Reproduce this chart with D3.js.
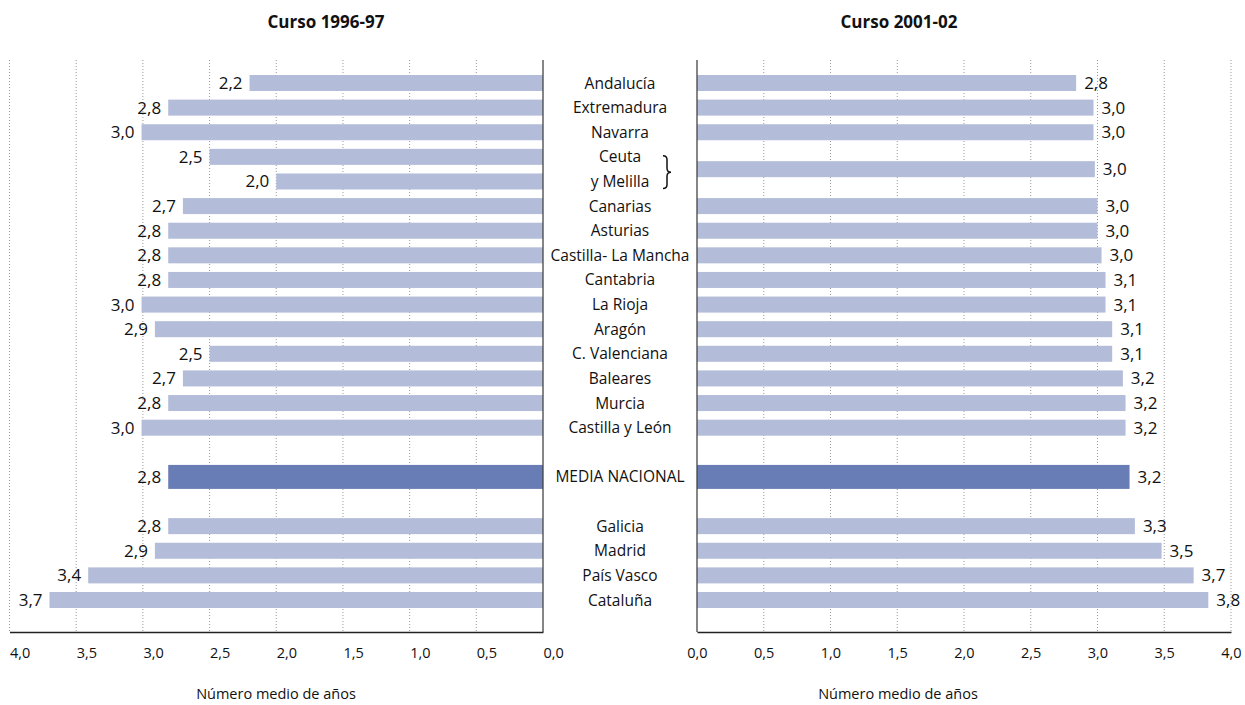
<!DOCTYPE html>
<html>
<head>
<meta charset="utf-8">
<script src="https://cdn.jsdelivr.net/npm/d3@7"></script>
<style>
  body { margin: 0; background: #fff; }
  text { font-family: "Open Sans", "Noto Sans", sans-serif; fill: #111; }
</style>
</head>
<body>
<svg id="chart" width="1245" height="705"></svg>
<script>
// Regions, in the order they are listed in the middle column
var regions = ['Andalucía', 'Extremadura', 'Navarra', 'Ceuta', 'y Melilla', 'Canarias', 'Asturias',
  'Castilla- La Mancha', 'Cantabria', 'La Rioja', 'Aragón', 'C. Valenciana', 'Baleares', 'Murcia',
  'Castilla y León', 'MEDIA NACIONAL', 'Galicia', 'Madrid', 'País Vasco', 'Cataluña'];

// Curso 1996-97 (one value per region above)
var curso1996 = [2.2, 2.81, 3.01, 2.5, 2.0, 2.7, 2.81, 2.81, 2.81, 3.01, 2.91, 2.5, 2.7, 2.81,
  3.01, 2.81, 2.81, 2.91, 3.41, 3.7];

// Curso 2001-02 (Ceuta and Melilla share one bar)
var regions2001 = ['Andalucía', 'Extremadura', 'Navarra', 'Ceuta y Melilla', 'Canarias', 'Asturias',
  'Castilla- La Mancha', 'Cantabria', 'La Rioja', 'Aragón', 'C. Valenciana', 'Baleares', 'Murcia',
  'Castilla y León', 'MEDIA NACIONAL', 'Galicia', 'Madrid', 'País Vasco', 'Cataluña'];
var curso2001 = [2.84, 2.97, 2.97, 2.98, 3.0, 3.0, 3.03, 3.06, 3.06, 3.11, 3.11, 3.19, 3.21, 3.21,
  3.24, 3.28, 3.48, 3.72, 3.83];

var xTicks = [0, 0.5, 1, 1.5, 2, 2.5, 3, 3.5, 4];
var titles = ['Curso 1996-97', 'Curso 2001-02'];
var axisTitle = 'Número medio de años';

var svg = d3.select('#chart');
var es = d3.formatLocale({ decimal: ',', thousands: '.', grouping: [3], currency: ['', '€'] });
var fmt = es.format('.1f');

// Row layout: the national mean sits between two empty rows
var rowOrder = regions.slice(0, 15).concat(['_gap1', 'MEDIA NACIONAL', '_gap2'], regions.slice(16));
var y = d3.scalePoint().domain(rowOrder).range([83, 600]);
function rowY(name) {
  if (name === 'Ceuta y Melilla') return (y('Ceuta') + y('y Melilla')) / 2;
  return y(name);
}
function isMean(name) { return name === 'MEDIA NACIONAL'; }

var plotTop = 60, plotBase = 632;
var xL = d3.scaleLinear().domain([0, 4]).range([543, 9.5]);
var xR = d3.scaleLinear().domain([0, 4]).range([697, 1231]);

function drawPanel(x, names, values, side, title, titleX, axisTitleX) {
  var g = svg.append('g');

  // dotted gridlines
  g.selectAll('line.grid')
    .data(xTicks.filter(function(t) { return t > 0; }))
    .join('line')
      .attr('class', 'grid')
      .attr('x1', function(d) { return x(d); })
      .attr('x2', function(d) { return x(d); })
      .attr('y1', plotTop)
      .attr('y2', plotBase)
      .attr('stroke', '#9a9a9a')
      .attr('stroke-width', 1)
      .attr('stroke-dasharray', '1,2');

  // bars
  g.selectAll('rect.bar')
    .data(names)
    .join('rect')
      .attr('class', 'bar')
      .attr('x', function(d, i) { return Math.min(x(0), x(values[i])); })
      .attr('width', function(d, i) { return Math.abs(x(values[i]) - x(0)); })
      .attr('y', function(d) { return rowY(d) - (isMean(d) ? 12 : 8); })
      .attr('height', function(d) { return isMean(d) ? 24 : 16; })
      .attr('fill', function(d) { return isMean(d) ? '#687cb5' : '#b3bcd9'; });

  // value labels
  g.selectAll('text.val')
    .data(names)
    .join('text')
      .attr('class', 'val')
      .attr('x', function(d, i) { return side === 'left' ? x(values[i]) - 7 : x(values[i]) + 8; })
      .attr('y', function(d) { return rowY(d) + 6; })
      .attr('text-anchor', side === 'left' ? 'end' : 'start')
      .style('font-size', '17px')
      .text(function(d, i) { return fmt(values[i]); });

  // zero line
  g.append('line')
    .attr('x1', x(0)).attr('x2', x(0))
    .attr('y1', plotTop).attr('y2', plotBase)
    .attr('stroke', '#444').attr('stroke-width', 1.3);

  // bottom axis
  var axis = g.append('g')
    .attr('transform', 'translate(0,' + plotBase + ')')
    .call(d3.axisBottom(x).tickValues(xTicks).tickSize(0).tickPadding(16).tickFormat(fmt));
  axis.select('.domain').attr('stroke', '#222').attr('stroke-width', 1.5);
  axis.selectAll('text')
    .style('font-size', '14.5px')
    .style('font-family', '"Open Sans", sans-serif')
    .attr('fill', '#111')
    .attr('text-anchor', side === 'left' ? 'start' : 'middle');

  svg.append('text')
    .attr('x', titleX).attr('y', 28)
    .attr('text-anchor', 'middle')
    .style('font-size', '17px').style('font-weight', 'bold')
    .text(title);

  svg.append('text')
    .attr('x', axisTitleX).attr('y', 699)
    .attr('text-anchor', 'middle')
    .style('font-size', '14.5px')
    .text(axisTitle);
}

drawPanel(xL, regions, curso1996, 'left', titles[0], 326, 276);
drawPanel(xR, regions2001, curso2001, 'right', titles[1], 899, 898);

// region names in the middle column
svg.append('g').selectAll('text')
  .data(regions)
  .join('text')
    .attr('x', 620)
    .attr('y', function(d) { return y(d) + 5.5; })
    .attr('text-anchor', 'middle')
    .style('font-size', '15.5px')
    .text(function(d) { return d; });

// brace joining Ceuta and Melilla
var bx = 663, by0 = y('Ceuta') - 1, by1 = y('y Melilla') + 7, bm = (by0 + by1) / 2;
var p = d3.path();
p.moveTo(bx, by0);
p.quadraticCurveTo(bx + 4, by0, bx + 4, by0 + 4);
p.lineTo(bx + 4, bm - 4);
p.quadraticCurveTo(bx + 4, bm, bx + 8, bm);
p.quadraticCurveTo(bx + 4, bm, bx + 4, bm + 4);
p.lineTo(bx + 4, by1 - 4);
p.quadraticCurveTo(bx + 4, by1, bx, by1);
svg.append('path')
  .attr('d', p.toString())
  .attr('fill', 'none')
  .attr('stroke', '#111')
  .attr('stroke-width', 1.5);
</script>
</body>
</html>
